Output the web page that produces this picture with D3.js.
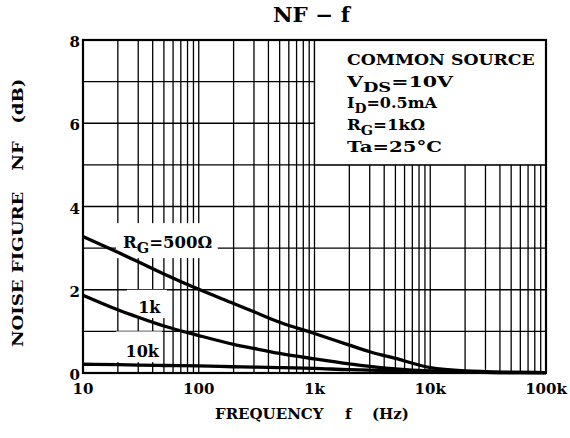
<!DOCTYPE html>
<html>
<head>
<meta charset="utf-8">
<script src="https://cdn.jsdelivr.net/npm/d3@7"></script>
<style>
body { margin: 0; background: #fff; }
text { font-family: "DejaVu Serif", serif; font-weight: bold; fill: #000; }
</style>
</head>
<body>
<svg id="chart" width="570" height="438"></svg>
<script>
/*=================
=== The data
=================*/
var freqs = [10, 20, 30, 50, 100, 200, 300, 500, 1000, 2000, 3000, 5000, 10000, 20000, 50000, 100000];
var nf500 = [3.28, 2.90, 2.67, 2.38, 2.01, 1.67, 1.47, 1.22, 0.95, 0.67, 0.51, 0.35, 0.13, 0.05, 0.02, 0.01];
var nf1k  = [1.87, 1.52, 1.34, 1.13, 0.90, 0.69, 0.59, 0.47, 0.34, 0.22, 0.16, 0.10, 0.05, 0.03, 0.01, 0.01];
var nf10k = [0.21, 0.20, 0.19, 0.18, 0.17, 0.15, 0.14, 0.13, 0.11, 0.08, 0.07, 0.05, 0.03, 0.02, 0.01, 0.01];

var xTicks = [10, 100, 1000, 10000, 100000];
var xTickLabels = ['10', '100', '1k', '10k', '100k'];
var yTicks = [0, 2, 4, 6, 8];

// [main, subscript, rest]
var conditions = [
	['COMMON SOURCE', '', ''],
	['V', 'DS', '=10V'],
	['I', 'D', '=0.5mA'],
	['R', 'G', '=1k\u03A9'],
	['Ta=25\u00B0C', '', '']
];

/*=================
=== The vars
=================*/
var svg = d3.select('#chart');
var mLeft = 83, mRight = 546, mTop = 40, mBottom = 373;

var x = d3.scaleLog().domain([10, 100000]).range([mLeft, mRight]);
var y = d3.scaleLinear().domain([0, 8]).range([mBottom, mTop]);

var line = d3.line()
	.curve(d3.curveMonotoneX)
	.x(function (d) { return x(d[0]); })
	.y(function (d) { return y(d[1]); });

// stretch a text horizontally to a given width (the original face is wide)
function fitWidth(t, x0, y0, w, rot) {
	var len = t.node().getComputedTextLength();
	t.attr('x', 0).attr('y', 0)
		.attr('transform', 'translate(' + x0 + ',' + y0 + ')' + (rot ? ' rotate(' + rot + ')' : '') + ' scale(' + (w / len) + ',1)');
}

/*=================
=== Grid
=================*/
var grid = svg.append('g').attr('stroke', '#000').attr('stroke-width', 1.3);

grid.selectAll('.vx')
	.data(x.ticks())
	.enter().append('line')
	.attr('x1', function (d) { return x(d); })
	.attr('x2', function (d) { return x(d); })
	.attr('y1', mTop).attr('y2', mBottom);

grid.selectAll('.hy')
	.data(d3.range(0, 9))
	.enter().append('line')
	.attr('y1', function (d) { return y(d); })
	.attr('y2', function (d) { return y(d); })
	.attr('x1', mLeft).attr('x2', mRight);

// white patches behind the labels
svg.append('rect')
	.attr('x', x(1000)).attr('y', y(8))
	.attr('width', x(100000) - x(1000)).attr('height', y(5) - y(8))
	.attr('fill', '#fff').attr('stroke', '#000').attr('stroke-width', 1.3);

var patches = [[19.3, 146, 3.6, 2.76], [24, 53, 2.0, 1.32], [19.3, 48, 1.0, 0.26]];
svg.selectAll('.patch')
	.data(patches)
	.enter().append('rect')
	.attr('x', function (d) { return x(d[0]); })
	.attr('y', function (d) { return y(d[2]); })
	.attr('width', function (d) { return x(d[1]) - x(d[0]); })
	.attr('height', function (d) { return y(d[3]) - y(d[2]); })
	.attr('fill', '#fff');

/*=================
=== Curves
=================*/
[nf500, nf1k, nf10k].forEach(function (s) {
	svg.append('path')
		.datum(d3.zip(freqs, s))
		.attr('fill', 'none')
		.attr('stroke', '#000')
		.attr('stroke-width', 3.3)
		.attr('stroke-linejoin', 'round')
		.attr('d', line);
});

// frame
svg.append('rect')
	.attr('x', mLeft).attr('y', mTop)
	.attr('width', mRight - mLeft).attr('height', mBottom - mTop)
	.attr('fill', 'none').attr('stroke', '#000').attr('stroke-width', 2.2);

/*=================
=== Texts
=================*/
svg.selectAll('.xl')
	.data(xTicks)
	.enter().append('text')
	.attr('x', function (d) { return x(d); })
	.attr('y', 394)
	.attr('text-anchor', 'middle')
	.attr('font-size', 15)
	.text(function (d, i) { return xTickLabels[i]; });

svg.selectAll('.yl')
	.data(yTicks)
	.enter().append('text')
	.attr('x', 80)
	.attr('y', function (d) { return y(d) + 7; })
	.attr('text-anchor', 'end')
	.attr('font-size', 15)
	.text(function (d) { return d; });

var title = svg.append('text')
	.attr('font-size', 20)
	.style('font-weight', '600')
	.text('NF \u2212 f');
fitWidth(title, 273, 22, 77);

var xt = svg.append('text').attr('y', 419).attr('font-size', 15);
xt.append('tspan').attr('x', 215).text('FREQUENCY');
xt.append('tspan').attr('x', 345).text('f');
xt.append('tspan').attr('x', 372).text('(Hz)');

var yt = svg.append('text').attr('font-size', 15.5);
yt.append('tspan').text('NOISE FIGURE');
yt.append('tspan').attr('dx', 18).text('NF');
yt.append('tspan').attr('dx', 15).text('(dB)');
fitWidth(yt, 23, 347, 230, -90);

// curve labels
var l500 = svg.append('text').attr('font-size', 17);
l500.append('tspan').text('R');
l500.append('tspan').attr('dy', 5).attr('font-size', 15).text('G');
l500.append('tspan').attr('dy', -5).text('=500\u03A9');
fitWidth(l500, x(22.2), y(3.0), 89);

svg.append('text').attr('x', x(30)).attr('y', y(1.45)).attr('font-size', 16).text('1k');
svg.append('text').attr('x', x(23.3)).attr('y', y(0.38)).attr('font-size', 16).text('10k');

// conditions box
var condWidths = [188, 106, 90, 78, 95];
conditions.forEach(function (c, i) {
	var t = svg.append('text').attr('font-size', 15);
	t.append('tspan').text(c[0]);
	if (c[1]) {
		t.append('tspan').attr('dy', 5).attr('font-size', 13).text(c[1]);
		t.append('tspan').attr('dy', -5).text(c[2]);
	}
	fitWidth(t, 347, 65 + i * 21.7, condWidths[i]);
});
</script>
</body>
</html>
